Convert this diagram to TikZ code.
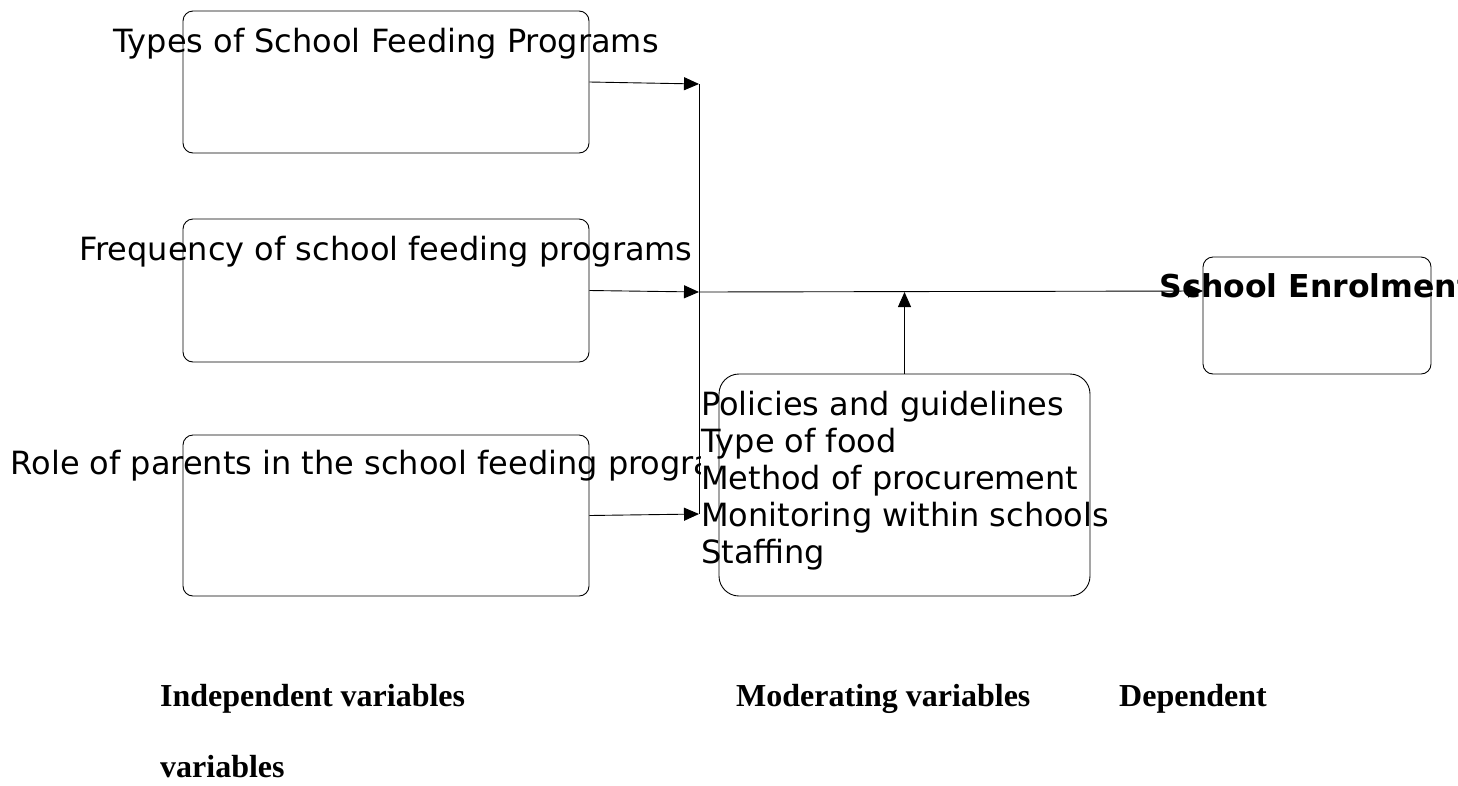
\documentclass[tikz,border=0pt]{standalone}
\usepackage{fontspec}
\usetikzlibrary{arrows.meta,calc}
\newfontfamily\boxfont{DejaVu Sans}
\newfontfamily\labelfont{Liberation Serif}

\begin{document}
\begin{tikzpicture}[x=1pt, y=-1pt, >={Triangle[length=15pt,width=13pt]},
	every node/.style={inner sep=0pt},
	varbox/.style={draw, line width=0.9pt, rounded corners=10pt},
	boxtext/.style={font=\boxfont\fontsize{32}{37}\selectfont, anchor=base},
	vartext/.style={font=\labelfont\bfseries\fontsize{32}{37}\selectfont, anchor=base west},
	link/.style={line width=0.9pt}]
	
	% parameters
	\def\boxw{406pt}   % width of the independent boxes
	\def\boxx{386}     % their centre line
	\def\jx{699}       % x of the joining line
	
	\useasboundingbox (0,0) rectangle (1458,785);
	\clip (0,0) rectangle (1458,785);
	
	% independent variables
	\node[varbox, minimum width=\boxw, minimum height=142pt] (A) at (\boxx,82) {};
	\node[varbox, minimum width=\boxw, minimum height=143pt] (B) at (\boxx,290.5) {};
	\node[varbox, minimum width=\boxw, minimum height=161pt] (C) at (\boxx,515.5) {};
	\node[boxtext] (tA) at (\boxx,52) {Types of School Feeding Programs};
	\node[boxtext] (tB) at (\boxx,260) {Frequency of school feeding programs};
	\node[boxtext] (tC) at (\boxx,474) {Role of parents in the school feeding programs};
	
	% dependent variable
	\node[varbox, minimum width=228pt, minimum height=117pt] (D) at (1317,315.5) {};
	\node[boxtext, font=\boxfont\bfseries\fontsize{31.5}{37}\selectfont] (tD) at (1316,297) {School Enrolment};
	
	% moderating variables
	\node[font=\boxfont\fontsize{32}{37}\selectfont, align=left, anchor=north west, fill=white] (mtext) at (701,391)
	{Policies and guidelines\\Type of food\\Method of procurement\\Monitoring within schools\\Staffing};
	\node[varbox, rounded corners=20pt, minimum width=371pt, minimum height=222pt] (M) at (904.5,485) {};
	
	% joining lines
	\coordinate (JA) at (\jx,84);
	\coordinate (JB) at (\jx,292);
	\coordinate (JC) at (\jx,514);
	\coordinate (DE) at (1203,291);
	\coordinate (MJ) at ($(M.north |- JB)$);
	
	\draw[link,->] (A.east) -- (JA);
	\draw[link,->] (B.east) -- (JB);
	\draw[link,->] (C.east) -- (JC);
	\draw[link] (JA) -- (JC);
	\draw[link,->] (JB) -- (DE);
	\draw[link,->] (M.north) -- (MJ);
	
	% labels under the boxes
	\node[vartext] (lI) at (160,706) {Independent variables};
	\node[vartext] (lM) at (736,706) {Moderating variables};
	\node[vartext] (lD) at (1119,706) {Dependent};
	\node[vartext] (lV) at (160,777) {variables};
\end{tikzpicture}
\end{document}
